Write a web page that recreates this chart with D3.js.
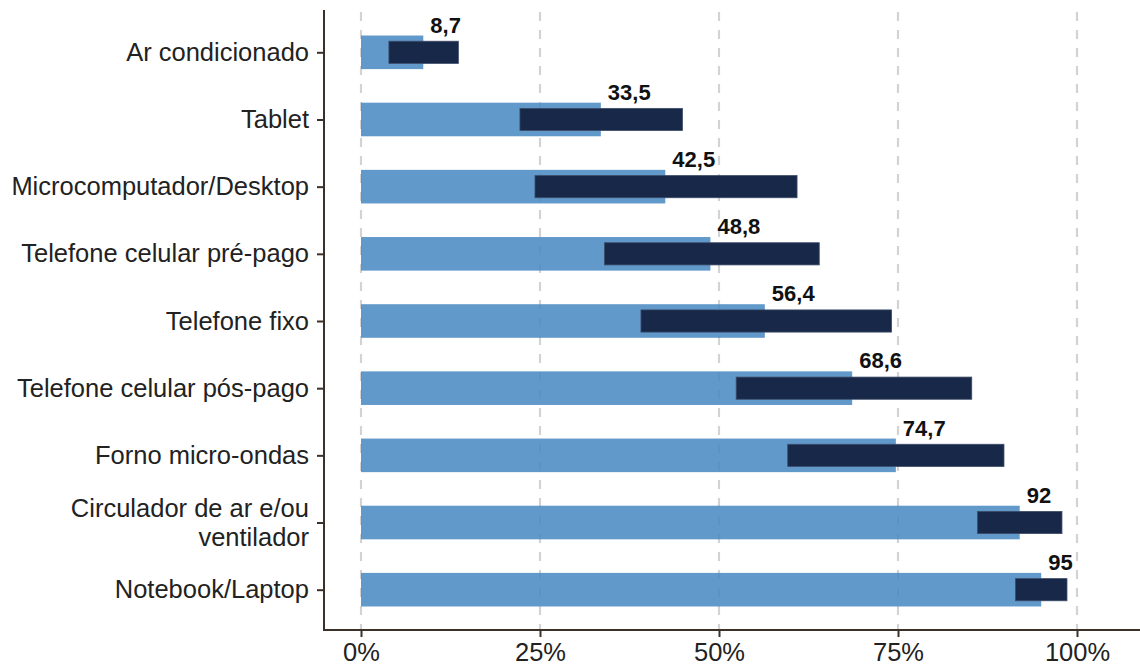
<!DOCTYPE html>
<html>
<head>
<meta charset="utf-8">
<script src="https://cdn.jsdelivr.net/npm/d3@7"></script>
<style>
  html, body { margin: 0; padding: 0; background: #fff; }
  svg { display: block; font-family: "Liberation Sans", Arial, Helvetica, sans-serif; }
</style>
</head>
<body>
<svg id="chart" width="1140" height="665"></svg>
<script>
// ---- data ----
const categories = [
  "Ar condicionado",
  "Tablet",
  "Microcomputador/Desktop",
  "Telefone celular pré-pago",
  "Telefone fixo",
  "Telefone celular pós-pago",
  "Forno micro-ondas",
  "Circulador de ar e/ou\nventilador",
  "Notebook/Laptop"
];
const values = [8.7, 33.5, 42.5, 48.8, 56.4, 68.6, 74.7, 92, 95];
const lows   = [3.9, 22.2, 24.3, 34.0, 39.1, 52.4, 59.6, 86.1, 91.4];
const highs  = [13.6, 44.9, 60.9, 64.0, 74.1, 85.3, 89.8, 97.9, 98.6];
const xTicks = [0, 25, 50, 75, 100];
const xTickLabels = ["0%", "25%", "50%", "75%", "100%"];

const rows = categories.map((c, i) => ({
  cat: c, value: values[i], low: lows[i], high: highs[i],
  label: String(values[i]).replace(".", ",")
}));

// ---- layout ----
const svg = d3.select("#chart");
const panelLeft = 324, panelRight = 1140, panelTop = 12, panelBottom = 630;
const fs = 25.5;

const x = d3.scaleLinear().domain([0, 100]).range([361, 1077]);
const y = d3.scalePoint().domain(categories).range([panelTop, panelBottom]).padding(0.6);
const step = y.step();

// gridlines
svg.append("g").selectAll("line").data(xTicks).join("line")
  .attr("x1", d => x(d)).attr("x2", d => x(d))
  .attr("y1", panelTop).attr("y2", panelBottom)
  .attr("stroke", "#d3d3d3").attr("stroke-width", 2.2)
  .attr("stroke-dasharray", "9,9");

// light bars
const lightH = step * 0.5;
svg.append("g").selectAll("rect").data(rows).join("rect")
  .attr("x", x(0)).attr("y", d => y(d.cat) - lightH / 2)
  .attr("width", d => x(d.value) - x(0)).attr("height", lightH)
  .attr("fill", "#4787c2").attr("fill-opacity", 0.85);

// dark bars
const darkH = step * 0.33;
svg.append("g").selectAll("rect").data(rows).join("rect")
  .attr("x", d => x(d.low)).attr("y", d => y(d.cat) - darkH / 2)
  .attr("width", d => x(d.high) - x(d.low)).attr("height", darkH)
  .attr("fill", "#172849").attr("stroke", "#3d4c68").attr("stroke-width", 0.8);

// value labels
svg.append("g").selectAll("text").data(rows).join("text")
  .attr("x", d => x(d.value) + 7)
  .attr("y", d => y(d.cat) - lightH / 2 - 3)
  .attr("font-size", 22).attr("font-weight", "bold").attr("fill", "#111")
  .text(d => d.label);

// axes
const axisColor = "#3b3129";
const yAxis = svg.append("g").attr("transform", `translate(${panelLeft},0)`)
  .call(d3.axisLeft(y).tickSize(7).tickSizeOuter(0).tickPadding(8));
yAxis.select(".domain").remove();
yAxis.selectAll(".tick line").attr("stroke", axisColor).attr("stroke-width", 2);
yAxis.selectAll(".tick text")
  .attr("font-size", fs).attr("fill", "#222").attr("font-family", null)
  .each(function(d) {
    const lines = d.split("\n");
    const t = d3.select(this);
    if (lines.length > 1) {
      t.text(null);
      const lh = 29;
      lines.forEach((ln, i) => {
        t.append("tspan").attr("x", -15)
          .attr("dy", i === 0 ? (-(lines.length - 1) * lh / 2 / fs + 0.32) + "em" : lh + "px")
          .text(ln);
      });
      t.attr("dy", null);
    }
  });

const xAxis = svg.append("g").attr("transform", `translate(0,${panelBottom})`)
  .call(d3.axisBottom(x).tickValues(xTicks).tickFormat((d, i) => xTickLabels[i]).tickSize(7).tickPadding(6));
xAxis.select(".domain").remove();
xAxis.selectAll(".tick line").attr("stroke", axisColor).attr("stroke-width", 2);
xAxis.selectAll(".tick text").attr("font-size", fs).attr("fill", "#222").attr("font-family", null);

// axis lines
svg.append("line").attr("x1", panelLeft).attr("x2", panelLeft)
  .attr("y1", panelTop - 2).attr("y2", panelBottom + 1)
  .attr("stroke", axisColor).attr("stroke-width", 2);
svg.append("line").attr("x1", panelLeft - 1).attr("x2", panelRight)
  .attr("y1", panelBottom).attr("y2", panelBottom)
  .attr("stroke", axisColor).attr("stroke-width", 2);
</script>
</body>
</html>
